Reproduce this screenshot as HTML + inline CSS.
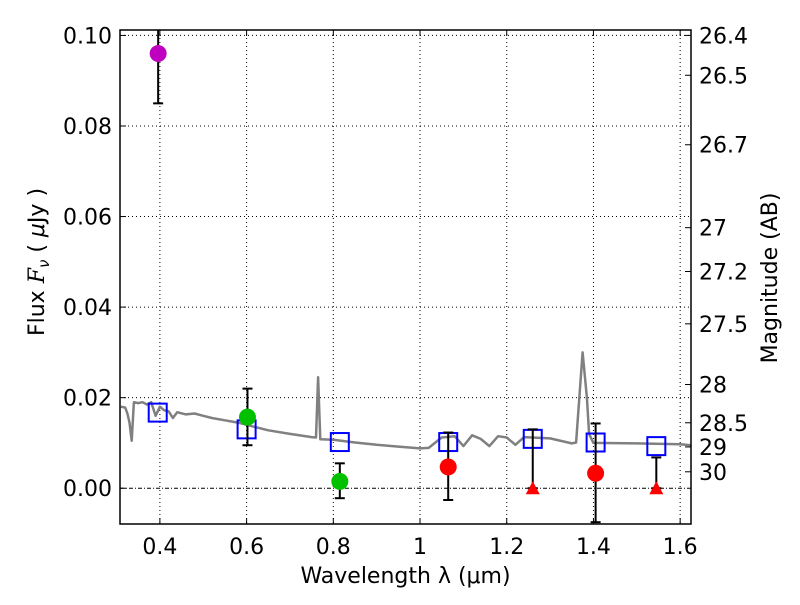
<!DOCTYPE html>
<html><head><meta charset="utf-8"><style>
body{margin:0;background:#fff;}
svg text{font-family:"DejaVu Sans","Liberation Sans",sans-serif;fill:#000;}
</style></head><body>
<svg id="chart" width="800" height="600" xmlns="http://www.w3.org/2000/svg">
<g id="grid"></g>
<g id="spec"></g>
<g id="marks"></g>
<g id="axes"></g>
</svg>
<script>
const xTicks=[0.4,0.6,0.8,1.0,1.2,1.4,1.6];
const xTickLabels=["0.4","0.6","0.8","1","1.2","1.4","1.6"];
const yTicks=[0,0.02,0.04,0.06,0.08,0.10];
const yTickLabels=["0.00","0.02","0.04","0.06","0.08","0.10"];
const magTicks=[26.4,26.5,26.7,27,27.2,27.5,28,28.5,29,30];
const magLabels=["26.4","26.5","26.7","27","27.2","27.5","28","28.5","29","30"];
const specLam=[0.31,0.32,0.325,0.33,0.335,0.34,0.35,0.36,0.37,0.38,0.385,0.39,0.40,0.41,0.42,0.43,0.44,0.46,0.48,0.50,0.52,0.55,0.58,0.60,0.62,0.65,0.70,0.75,0.76,0.765,0.77,0.80,0.85,0.90,0.95,1.0,1.02,1.05,1.08,1.10,1.12,1.14,1.16,1.18,1.20,1.22,1.24,1.30,1.35,1.36,1.375,1.385,1.39,1.40,1.5,1.6,1.625];
const specFlux=[0.018,0.0178,0.0165,0.0145,0.0105,0.019,0.0188,0.019,0.0185,0.019,0.0175,0.016,0.018,0.0172,0.017,0.0155,0.0168,0.0163,0.0165,0.016,0.0155,0.015,0.0145,0.014,0.0135,0.0128,0.012,0.0113,0.0112,0.0245,0.0108,0.0107,0.0101,0.0096,0.0092,0.0088,0.0089,0.0112,0.0115,0.0093,0.0117,0.0109,0.0093,0.0115,0.0112,0.0096,0.0113,0.011,0.0099,0.0101,0.030,0.020,0.012,0.0100,0.0099,0.0097,0.0095];
const ptLam=[0.396,0.602,0.815,1.065,1.405];
const ptFlux=[0.096,0.0157,0.0015,0.0047,0.0033];
const ptErrLo=[0.085,0.0095,-0.0022,-0.0026,-0.0075];
const ptErrHi=[0.11,0.022,0.0055,0.0123,0.0143];
const ptColor=["#bf00bf","#00c000","#00c000","#ff0000","#ff0000"];
const ulLam=[1.26,1.545];
const ulFlux=[0,0];
const ulErrHi=[0.013,0.0068];
const sqLam=[0.395,0.6,0.815,1.065,1.26,1.405,1.545];
const sqFlux=[0.0167,0.013,0.0102,0.0102,0.0109,0.0101,0.0093];

const L=120,R=691,T=30,B=524;
const xMin=0.308,xMax=1.625,yMin=-0.0079,yMax=0.1012;
const X=v=>L+(v-xMin)/(xMax-xMin)*(R-L);
const Y=v=>B-(v-yMin)/(yMax-yMin)*(B-T);
const NS="http://www.w3.org/2000/svg";
function mk(tag,attrs,parent){const e=document.createElementNS(NS,tag);for(const k in attrs)e.setAttribute(k,attrs[k]);parent.appendChild(e);return e;}
const grid=document.getElementById('grid'),spec=document.getElementById('spec'),marks=document.getElementById('marks'),axes=document.getElementById('axes');

xTicks.forEach((t,i)=>{
 let g=mk('line',{x1:X(t),x2:X(t),y1:T,y2:B,stroke:'#000','stroke-width':1,'stroke-dasharray':'1,3'},grid);
 
 mk('line',{x1:X(t),x2:X(t),y1:B,y2:B-6,stroke:'#000'},axes);
 mk('line',{x1:X(t),x2:X(t),y1:T,y2:T+6,stroke:'#000'},axes);
 let tx=mk('text',{x:X(t),y:B+30,'text-anchor':'middle','font-size':22},axes);tx.textContent=xTickLabels[i];
 
});
yTicks.forEach((t,i)=>{
 let g=mk('line',{x1:L,x2:R,y1:Y(t),y2:Y(t),stroke:'#000','stroke-width':1,'stroke-dasharray':t===0?'4,2,1,2':'1,3'},grid);
 
 mk('line',{x1:L,x2:L+6,y1:Y(t),y2:Y(t),stroke:'#000'},axes);
 let tx=mk('text',{x:L-8,y:Y(t)+8,'text-anchor':'end','font-size':22},axes);tx.textContent=yTickLabels[i];
 
});
magTicks.forEach((m,i)=>{
 const f=Math.pow(10,(23.9-m)/2.5);const y=Y(f);
 mk('line',{x1:R,x2:R-6,y1:y,y2:y,stroke:'#000'},axes);
 let tx=mk('text',{x:R+8,y:y+8,'font-size':22},axes);tx.textContent=magLabels[i];
 
});
let d=specLam.map((l,i)=>(i?'L':'M')+X(l).toFixed(1)+','+Y(specFlux[i]).toFixed(1)).join(' ');
let sp=mk('path',{d:d,fill:'none',stroke:'#808080','stroke-width':2.5,'stroke-linejoin':'round'},spec);


function errbar(x,lo,hi){
 const y1=Math.max(Y(hi),T),y2=Math.min(Y(lo),B);
 mk('line',{x1:x,x2:x,y1:y1,y2:y2,stroke:'#000','stroke-width':2},marks);
 if(Y(hi)>T) mk('line',{x1:x-5,x2:x+5,y1:y1,y2:y1,stroke:'#000','stroke-width':2},marks);
 if(Y(lo)<B) mk('line',{x1:x-5,x2:x+5,y1:y2,y2:y2,stroke:'#000','stroke-width':2},marks);
}
sqLam.forEach((l,i)=>{
 let r=mk('rect',{x:X(l)-9,y:Y(sqFlux[i])-9,width:18,height:18,fill:'none',stroke:'#0000ff','stroke-width':2},marks);
 
});
ptLam.forEach((l,i)=>{
 errbar(X(l),ptErrLo[i],ptErrHi[i]);
 let c=mk('circle',{cx:X(l),cy:Y(ptFlux[i]),r:8.5,fill:ptColor[i]},marks);
 
});
ulLam.forEach((l,i)=>{
 errbar(X(l),ulFlux[i],ulErrHi[i]);
 const x=X(l),y=Y(ulFlux[i]);
 let p=mk('polygon',{points:`${x-7},${y+6} ${x+7},${y+6} ${x},${y-7}`,fill:'#ff0000'},marks);
 
});
let fr=mk('rect',{x:L,y:T,width:R-L,height:B-T,fill:'none',stroke:'#000','stroke-width':1.5},axes);

let xl=mk('text',{x:(L+R)/2,y:583,'text-anchor':'middle','font-size':22},axes);
xl.textContent='Wavelength  λ (μm)';

let yl=mk('text',{x:0,y:0,'text-anchor':'middle','font-size':22,transform:'translate(44,262) rotate(-90)'},axes);
yl.innerHTML='Flux  <tspan font-style="italic" font-family="DejaVu Serif, serif">F</tspan><tspan font-style="italic" font-size="15" dy="5">ν</tspan><tspan dy="-5">  ( </tspan><tspan font-style="italic">μ</tspan><tspan>Jy )</tspan>';

let rl=mk('text',{x:0,y:0,'text-anchor':'middle','font-size':22,transform:'translate(777,278) rotate(-90)'},axes);
rl.textContent='Magnitude (AB)';

</script>
</body></html>
